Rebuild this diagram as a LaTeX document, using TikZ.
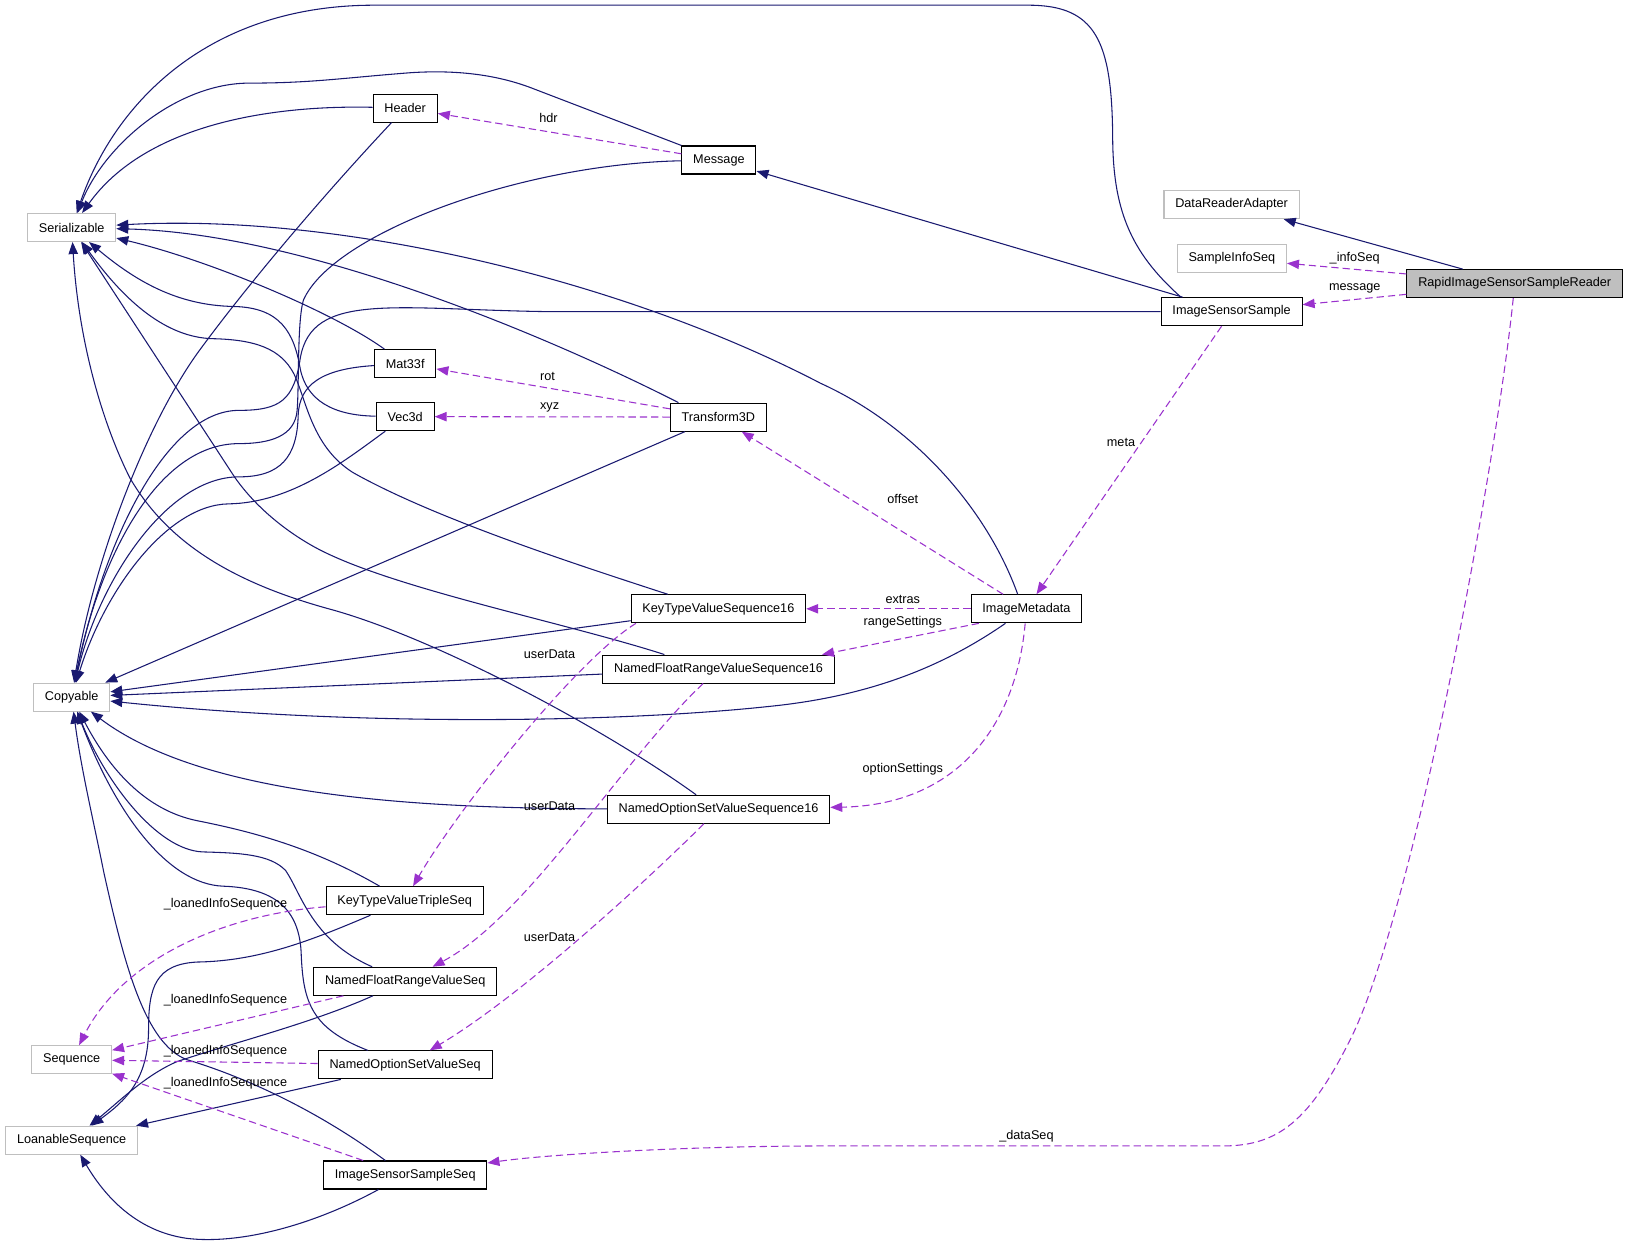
\documentclass[tikz,border=0pt]{standalone}
\usepackage{fontspec}
\setmainfont{Liberation Sans}
\usetikzlibrary{arrows.meta}

\definecolor{navyline}{HTML}{191970}
\definecolor{usepurple}{HTML}{9A32CD}
\definecolor{boxgray}{HTML}{BFBFBF}

\begin{document}
\begin{tikzpicture}[
    x=0.7792pt, y=-0.7792pt,
    cls/.style={draw=black, fill=white, line width=0.8pt, inner xsep=8.5pt, inner ysep=0pt, minimum height=21pt, font=\fontsize{9.5}{11}\selectfont},
    extcls/.style={cls, draw=boxgray},
    focuscls/.style={cls, fill=boxgray},
    inh_edge/.style={draw=navyline, line width=0.8pt, -{Triangle[length=9pt,width=7pt]}},
    use_edge/.style={draw=usepurple, line width=0.8pt, dash pattern=on 5.5pt off 3pt, -{Triangle[length=9pt,width=7pt]}},
    lbl/.style={font=\fontsize{9.5}{11}\selectfont, inner sep=0pt}
]
    \useasboundingbox (0,0) rectangle (1568,1198);

    % External base classes (left column)
    \node[extcls] (ser) at (69,219) {Serializable};
    \node[extcls] (cop) at (69,671) {Copyable};
    \node[extcls] (seq) at (69,1020) {Sequence};
    \node[extcls] (loan) at (69,1097.5) {LoanableSequence};

    % Small types
    \node[cls] (hdr) at (390,104) {Header};
    \node[cls] (m33) at (390,350) {Mat33f};
    \node[cls] (v3d) at (390,401) {Vec3d};
    \node[cls] (ktt) at (389.5,867) {KeyTypeValueTripleSeq};
    \node[cls] (nfr) at (390,944.5) {NamedFloatRangeValueSeq};
    \node[cls] (nos) at (390,1025) {NamedOptionSetValueSeq};
    \node[cls] (isss) at (390,1131) {ImageSensorSampleSeq};

    % Middle column
    \node[cls] (msg) at (692,154) {Message};
    \node[cls] (t3d) at (691.5,401.5) {Transform3D};
    \node[cls] (kt16) at (691.5,586) {KeyTypeValueSequence16};
    \node[cls] (nfr16) at (691.7,644) {NamedFloatRangeValueSequence16};
    \node[cls] (nos16) at (691.6,779) {NamedOptionSetValueSequence16};
    \node[cls] (imd) at (988,586) {ImageMetadata};

    % Right side
    \node[extcls] (dra) at (1185.5,197) {DataReaderAdapter};
    \node[extcls] (sis) at (1185.7,248.7) {SampleInfoSeq};
    \node[cls] (iss) at (1185.5,300) {ImageSensorSample};
    \node[focuscls] (rissr) at (1458,273) {RapidImageSensorSampleReader};

    % Links to Serializable
    \draw[inh_edge] (iss.164) .. controls (1087,242) and (1071,200) .. (1071,130)
        .. controls (1070,40) and (1055,5) .. (990,5) -- (360,5)
        .. controls (200,5) and (110,100) .. (ser);
    \draw[inh_edge] (msg.north west) -- (515,86) .. controls (480,72) and (440,67) .. (395,70)
        .. controls (330,75) and (300,80) .. (240,80) .. controls (170,80) and (100,140) .. (ser);
    \draw[inh_edge] (hdr) .. controls (260,101) and (140,120) .. (ser);
    \draw[inh_edge] (imd.121) .. controls (950,490) and (880,410) .. (790,369)
        .. controls (600,270) and (330,205) .. (ser);
    \draw[inh_edge] (t3d.160) .. controls (540,330) and (300,225) .. (ser);
    \draw[inh_edge] (m33.145) .. controls (320,300) and (200,250) .. (ser);
    \draw[inh_edge] (v3d) .. controls (320,400) and (295,385) .. (289,355)
        .. controls (283,320) and (270,296) .. (225,295) .. controls (170,294) and (130,270) .. (ser);
    \draw[inh_edge] (kt16.164) .. controls (560,545) and (420,500) .. (340,455)
        .. controls (300,430) and (295,385) .. (283,360) .. controls (270,335) and (245,327) .. (205,326)
        .. controls (160,325) and (120,290) .. (ser);
    \draw[inh_edge] (nfr16.165) .. controls (540,598) and (370,565) .. (300,525)
        .. controls (265,505) and (240,480) .. (225,458) -- (ser);
    \draw[inh_edge] (nos16.147) .. controls (580,700) and (420,615) .. (320,587)
        .. controls (220,560) and (160,520) .. (125,460) .. controls (95,400) and (75,320) .. (ser);

    % Links to Copyable
    \draw[inh_edge] (hdr) .. controls (300,200) and (230,285) .. (190,340)
        .. controls (140,410) and (90,540) .. (cop);
    \draw[inh_edge] (msg) .. controls (500,158) and (320,225) .. (292,289)
        .. controls (286,310) and (288,370) .. (286,395) .. controls (284,420) and (260,427) .. (230,427)
        .. controls (150,427) and (95,540) .. (cop);
    \draw[inh_edge] (iss) -- (530,300) .. controls (380,298) and (300,280) .. (289,345)
        .. controls (283,385) and (270,395) .. (230,395) .. controls (160,395) and (100,520) .. (cop);
    \draw[inh_edge] (m33) .. controls (310,355) and (288,370) .. (287,400)
        .. controls (286,440) and (270,459) .. (230,459) .. controls (160,459) and (95,560) .. (cop);
    \draw[inh_edge] (v3d) .. controls (330,445) and (280,484) .. (220,485)
        .. controls (160,486) and (100,570) .. (cop);
    \draw[inh_edge] (t3d) -- (cop);
    \draw[inh_edge] (kt16) -- (cop);
    \draw[inh_edge] (nfr16) -- (cop);
    \draw[inh_edge] (imd) .. controls (910,640) and (840,670) .. (740,680)
        .. controls (600,695) and (350,700) .. (cop);
    \draw[inh_edge] (nos16) .. controls (420,778) and (200,770) .. (cop);
    \draw[inh_edge] (ktt) .. controls (300,815) and (240,800) .. (190,790)
        .. controls (140,780) and (105,740) .. (cop);
    \draw[inh_edge] (nfr) .. controls (300,905) and (290,860) .. (275,838)
        .. controls (260,822) and (230,821) .. (195,820) .. controls (150,818) and (100,750) .. (cop);
    \draw[inh_edge] (nos) .. controls (300,990) and (292,965) .. (290,920)
        .. controls (289,880) and (270,855) .. (215,853) .. controls (160,851) and (110,780) .. (cop);
    \draw[inh_edge] (isss) .. controls (300,1065) and (230,1035) .. (180,1020)
        .. controls (140,1005) and (120,930) .. (100,840) .. controls (90,790) and (78,740) .. (cop);

    % Links to LoanableSequence
    \draw[inh_edge] (ktt) .. controls (300,905) and (250,925) .. (190,926)
        .. controls (150,928) and (143,950) .. (143,990) .. controls (143,1040) and (120,1060) .. (loan);
    \draw[inh_edge] (nfr) .. controls (300,985) and (220,1005) .. (170,1022)
        .. controls (140,1035) and (115,1060) .. (loan);
    \draw[inh_edge] (nos) -- (loan);
    \draw[inh_edge] (isss) .. controls (300,1180) and (230,1198) .. (180,1192)
        .. controls (130,1185) and (100,1150) .. (loan);

    % Other base classes
    \draw[inh_edge] (iss) -- (msg);
    \draw[inh_edge] (rissr) -- (dra);

    % Member links
    \draw[use_edge] (msg) -- (hdr) node[lbl] at (528,114) {hdr};
    \draw[use_edge] (t3d) -- (m33) node[lbl] at (527,362) {rot};
    \draw[use_edge] (t3d) -- (v3d) node[lbl] at (529,392) {xyz};
    \draw[use_edge] (imd) -- (t3d) node[lbl] at (869,480) {offset};
    \draw[use_edge] (imd) -- (kt16) node[lbl] at (869,577) {extras};
    \draw[use_edge] (imd.197) -- (nfr16.8) node[lbl] at (869,599) {rangeSettings};
    \draw[use_edge] (imd) .. controls (978,700) and (920,775) .. (nos16)
        node[lbl] at (869,740) {optionSettings};
    \draw[use_edge] (iss) -- (imd) node[lbl] at (1079,426) {meta};
    \draw[use_edge] (rissr) -- (sis) node[lbl] at (1304,249) {\_infoSeq};
    \draw[use_edge] (rissr) -- (iss) node[lbl] at (1304,278) {message};
    \draw[use_edge] (rissr) .. controls (1440,450) and (1360,880) .. (1300,1000)
        .. controls (1260,1080) and (1230,1102) .. (1180,1103) -- (800,1103)
        .. controls (650,1103) and (520,1112) .. (isss) node[lbl] at (988,1094) {\_dataSeq};
    \draw[use_edge] (kt16.190) .. controls (555,635) and (440,780) .. (ktt)
        node[lbl] at (529,630) {userData};
    \draw[use_edge] (nfr16) .. controls (600,730) and (508,882) .. (nfr)
        node[lbl] at (529,776) {userData};
    \draw[use_edge] (nos16) .. controls (620,850) and (500,960) .. (nos)
        node[lbl] at (529,902) {userData};
    \draw[use_edge] (ktt) .. controls (220,880) and (120,920) .. (seq)
        node[lbl] at (217,870) {\_loanedInfoSequence};
    \draw[use_edge] (nfr) -- (seq) node[lbl] at (217,963) {\_loanedInfoSequence};
    \draw[use_edge] (nos) -- (seq) node[lbl] at (217,1012) {\_loanedInfoSequence};
    \draw[use_edge] (isss) -- (seq) node[lbl] at (217,1043) {\_loanedInfoSequence};
\end{tikzpicture}
\end{document}
